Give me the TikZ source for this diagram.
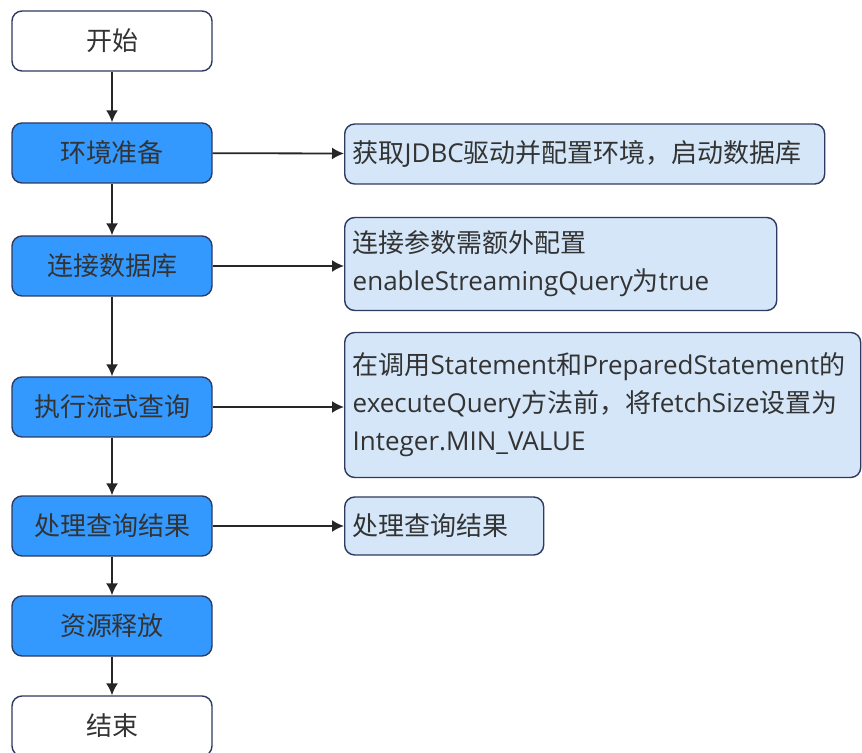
\documentclass[tikz,border=0pt]{standalone}
\usepackage{fontspec}
\setmainfont{Open Sans}
\newfontfamily\cjk{Noto Sans CJK SC}
\usetikzlibrary{arrows.meta}
\definecolor{stepblue}{HTML}{3399FF}
\definecolor{notefill}{HTML}{D4E6F8}
\definecolor{edgenavy}{HTML}{2E3A60}
\definecolor{txtgray}{HTML}{333333}
\tikzset{
  arr/.style={-{Latex[length=6pt,width=6pt]}, line width=0.9pt, draw=black!85},
  endbox/.style={draw=edgenavy, fill=white, rounded corners=5pt, line width=0.7pt,
                 minimum width=100pt, minimum height=30pt, inner sep=0pt,
                 font=\cjk\fontsize{13}{15}\selectfont, text=txtgray},
  stepbox/.style={endbox, fill=stepblue, text=black!80},
  notebox/.style={draw=edgenavy, fill=notefill, rounded corners=5pt, line width=0.7pt,
                  anchor=west, align=left, inner xsep=4pt, inner ysep=0pt,
                  font=\fontsize{13}{19}\selectfont, text=txtgray},
}

\begin{document}
\begin{tikzpicture}[x=0.5pt, y=-0.5pt]
\useasboundingbox (0,0) rectangle (862,753);
% main column
\node[endbox]  (start)   at (112,41)  {开始};
\node[stepbox] (env)     at (112,153) {环境准备};
\node[stepbox] (connect) at (112,266) {连接数据库};
\node[stepbox] (query)   at (112,407) {执行流式查询};
\node[stepbox] (result)  at (112,526) {处理查询结果};
\node[stepbox] (release) at (112,626) {资源释放};
\node[endbox]  (stop)    at (112,726) {结束};
% notes
\node[notebox, text width=232pt, minimum height=30pt] (envnote) at (344,154)
  {{\cjk 获取}JDBC{\cjk 驱动并配置环境，启动数据库}};
\node[notebox, text width=208pt, minimum height=46.5pt] (connnote) at (344,264)
  {{\cjk 连接参数需额外配置}\\enableStreamingQuery{\cjk 为}true};
\node[notebox, text width=250pt, minimum height=72.5pt] (querynote) at (344,405)
  {{\cjk 在调用}Statement{\cjk 和}PreparedStatement{\cjk 的}\\
   executeQuery{\cjk 方法前，将}fetchSize{\cjk 设置为}\\Integer.MIN\_VALUE};
\node[notebox, text width=91.5pt, minimum height=29pt] (resnote) at (344,526)
  {{\cjk 处理查询结果}};
% flow
\draw[arr] (start)   -- (env);
\draw[arr] (env)     -- (envnote);
\draw[arr] (env)     -- (connect);
\draw[arr] (connect) -- (connect -| connnote.west);
\draw[arr] (connect) -- (query);
\draw[arr] (query)   -- (query -| querynote.west);
\draw[arr] (query)   -- (result);
\draw[arr] (result)  -- (resnote);
\draw[arr] (result)  -- (release);
\draw[arr] (release) -- (stop);
\end{tikzpicture}
\end{document}
